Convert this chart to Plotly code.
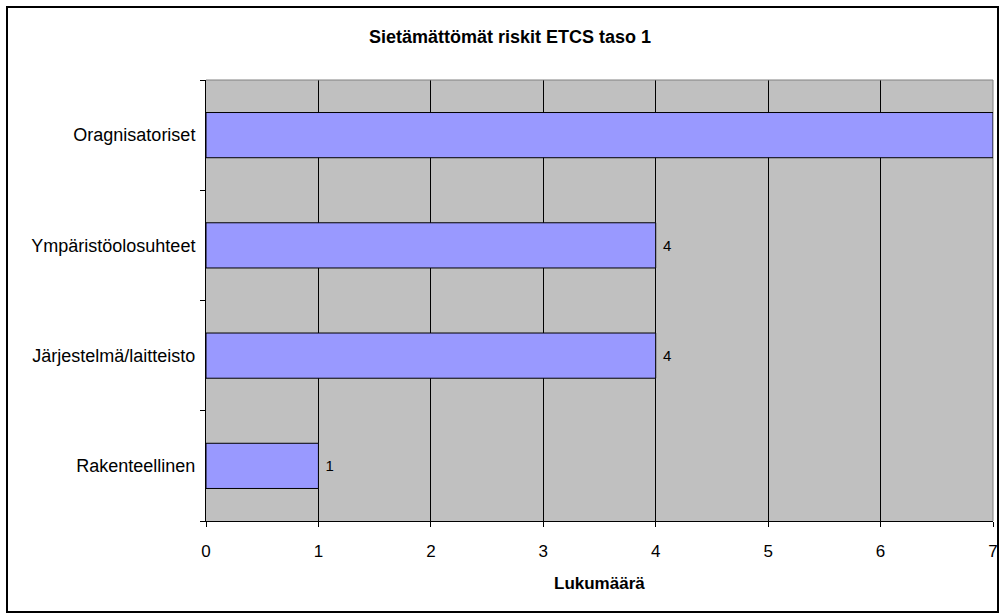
import plotly.graph_objects as go

categories = ["Rakenteellinen", "Järjestelmä/laitteisto", "Ympäristöolosuhteet", "Oragnisatoriset"]
values = [1, 4, 4, 7]
x_ticks = [0, 1, 2, 3, 4, 5, 6, 7]
title_text = "Sietämättömät riskit ETCS taso 1"
x_title = "Lukumäärä"

W, H = 999, 614
L, R, T, B = 206, 6, 80, 93
pw, ph = W - L - R, H - T - B

def px_x(p):
    return (p - L) / pw

def px_y(p):
    return (H - B - p) / ph

font = "Liberation Sans, Arial, sans-serif"

fig = go.Figure(go.Bar(
    x=values,
    y=categories,
    orientation="h",
    width=0.41,
    marker=dict(color="#9999FF", line=dict(color="#000000", width=1)),
    texttemplate=" %{x}",
    textposition="outside",
    constraintext="none",
    textfont=dict(family=font, size=15, color="#000000"),
    cliponaxis=False,
    hoverinfo="skip",
))

fig.update_layout(
    width=W, height=H,
    margin=dict(l=L, r=R, t=T, b=B, pad=0, autoexpand=False),
    paper_bgcolor="#FFFFFF",
    plot_bgcolor="#C0C0C0",
    showlegend=False,
    font=dict(family=font, size=17, color="#000000"),
    title=dict(
        text="<b>" + title_text + "</b>",
        xref="container", yref="container",
        x=510 / W, y=1 - 37 / H,
        xanchor="center", yanchor="middle",
        font=dict(family=font, size=18, color="#000000"),
    ),
    xaxis=dict(
        range=[0, 7],
        tickvals=x_ticks,
        ticktext=[str(t) for t in x_ticks],
        showgrid=True, gridcolor="#000000", gridwidth=1,
        zeroline=False,
        showline=True, linecolor="#000000", linewidth=1,
        ticks="outside", ticklen=5, tickcolor="#000000",
        ticklabelstandoff=10,
        automargin=False,
        tickfont=dict(family=font, size=17, color="#000000"),
        fixedrange=True,
    ),
    yaxis=dict(
        categoryorder="array", categoryarray=categories,
        showgrid=False, zeroline=False,
        showline=True, linecolor="#000000", linewidth=1,
        ticks="outside", ticklen=5, tickcolor="#000000",
        tickson="boundaries",
        ticklabelstandoff=6,
        automargin=False,
        tickfont=dict(family=font, size=18, color="#000000"),
        fixedrange=True,
    ),
    annotations=[
        dict(text="<b>" + x_title + "</b>", xref="paper", yref="paper",
             x=0.5, y=px_y(583), xanchor="center", yanchor="middle",
             showarrow=False, font=dict(family=font, size=17, color="#000000")),
    ],
    shapes=[
        # plot area border (top / right, grey)
        dict(type="line", xref="paper", yref="paper", x0=0, x1=1, y0=1, y1=1,
             line=dict(color="#808080", width=1), layer="above"),
        dict(type="line", xref="paper", yref="paper", x0=1, x1=1, y0=0, y1=1,
             line=dict(color="#808080", width=1), layer="below"),
        # outer chart frame
        dict(type="rect", xref="paper", yref="paper",
             x0=px_x(7), x1=px_x(998), y0=px_y(612), y1=px_y(7),
             line=dict(color="#000000", width=2), fillcolor="rgba(0,0,0,0)",
             layer="above"),
    ],
)

fig.write_html("out.html",
               config={"displayModeBar": False, "staticPlot": True},
               post_script="document.body.style.margin='0px';document.body.style.overflow='hidden';")
